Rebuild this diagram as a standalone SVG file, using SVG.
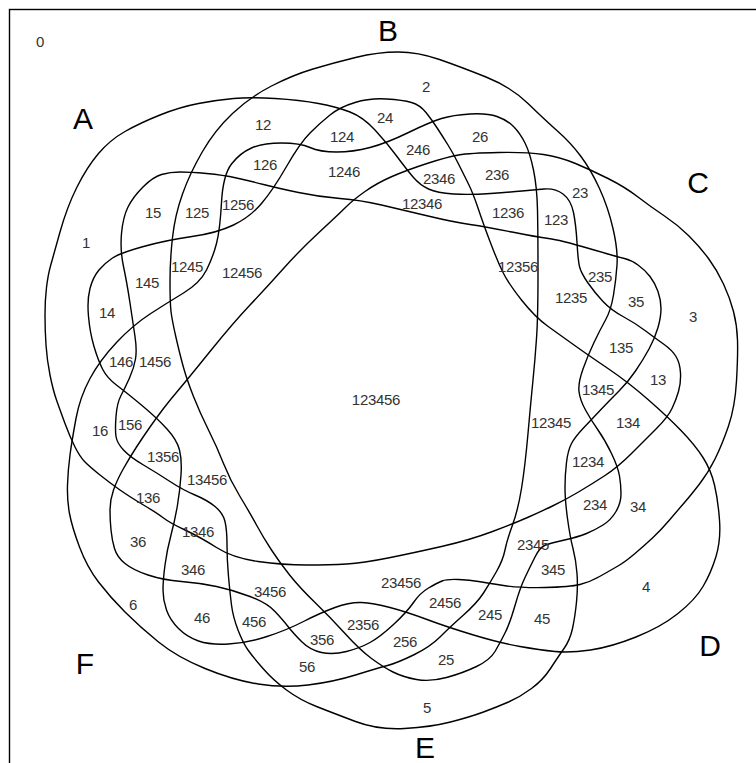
<svg xmlns="http://www.w3.org/2000/svg" width="756" height="763" viewBox="0 0 756 763">
<style>
.set{fill:none;stroke:#000;stroke-width:1.4;stroke-linejoin:round}
.r{font-family:"Liberation Sans",Arial,sans-serif;font-size:15px;fill:#333;text-anchor:middle;letter-spacing:-0.3px}
.s{font-family:"Liberation Sans",Arial,sans-serif;font-size:30px;fill:#000;text-anchor:middle}
</style>
<rect x="0" y="0" width="756" height="763" fill="#fff"/>
<rect x="9.5" y="9.5" width="900" height="900" fill="none" stroke="#000" stroke-width="1.4"/>
<g id="connectors">
<g id="setA"><path class="set" d="M46.5,287.5 Q48,275 50.5,266 Q53,257 60,232 Q67,207 77,187 Q87,167 98.5,153.5 Q110,140 125,131.5 Q140,123 160,115 Q180,107 198.5,103.5 Q217,100 233.5,98.5 Q250,97 275,98.5 Q300,100 318.5,103.5 Q337,107 350,112 Q363,117 375,130 Q387,143 397,156.5 Q407,170 413.5,177.5 Q420,185 428.5,189 Q437,193 453.5,194 Q470,195 490.5,193.5 Q511,192 522,191 Q533,190 544,189 Q555,188 563,194 Q571,200 573.5,212.5 Q576,225 577,242.5 Q578,260 579.5,266.5 Q581,273 588,283 Q595,293 603,301.5 Q611,310 623,316.5 Q635,323 645,330.5 Q655,338 663.5,344 Q672,350 676,356.5 Q680,363 680.5,373 Q681,383 678.5,391.5 Q676,400 672,408.5 Q668,417 656.5,428.5 Q645,440 631.5,453.5 Q618,467 605,475.5 Q592,484 578.5,492 Q565,500 552.5,506 Q540,512 527.5,517.5 Q515,523 492.5,531.5 Q470,540 441.5,546.5 Q413,553 388,558 Q363,563 346.5,564 Q330,565 306.5,565 Q283,565 258,561.5 Q233,558 216.5,547.5 Q200,537 185,530 Q170,523 163.5,518 Q157,513 143.5,505 Q130,497 120,490 Q110,483 100,475 Q90,467 85,462 Q80,457 75,447 Q70,437 65,423.5 Q60,410 56.5,400 Q53,390 50,375 Q47,360 46,345 Q45,330 45,315 Q45,300 46.5,287.5 Z"/></g>
<g id="setB"><path class="set" d="M182.5,194 Q190,173 202.5,151.5 Q215,130 232.5,113.5 Q250,97 271.5,86 Q293,75 313,69 Q333,63 355.5,57.5 Q378,52 398,52 Q418,52 439.5,59.5 Q461,67 486,77 Q511,87 528,103.5 Q545,120 558,131.5 Q571,143 581,156.5 Q591,170 599.5,188.5 Q608,207 613,228.5 Q618,250 617,265 Q616,280 613.5,295 Q611,310 605.5,320 Q600,330 594,342.5 Q588,355 583,369 Q578,383 579,391.5 Q580,400 585.5,410 Q591,420 598,430 Q605,440 611.5,453.5 Q618,467 619.5,476 Q621,485 621,494 Q621,503 616,511.5 Q611,520 603,525 Q595,530 586.5,533.5 Q578,537 564.5,540 Q551,543 545.5,545 Q540,547 535,557 Q530,567 525,577.5 Q520,588 515,605.5 Q510,623 505,633 Q500,643 495,651.5 Q490,660 476.5,666.5 Q463,673 446.5,677.5 Q430,682 416.5,679.5 Q403,677 393,672 Q383,667 371.5,658.5 Q360,650 345,633.5 Q330,617 315,602.5 Q300,588 290,575.5 Q280,563 271.5,550 Q263,537 256.5,525 Q250,513 240,496.5 Q230,480 223.5,463.5 Q217,447 208.5,430 Q200,413 193.5,396.5 Q187,380 183.5,367.5 Q180,355 176,337.5 Q172,320 171,311.5 Q170,303 170,281.5 Q170,260 172.5,237.5 Q175,215 182.5,194 Z"/></g>
<g id="setC"><path class="set" d="M110,510 Q110,500 113.5,490 Q117,480 123.5,468.5 Q130,457 136.5,447 Q143,437 150,427 Q157,417 163.5,408.5 Q170,400 178.5,390 Q187,380 210,351.5 Q233,323 250,305 Q267,287 283.5,268.5 Q300,250 320,231.5 Q340,213 346.5,206.5 Q353,200 365,191.5 Q377,183 392,176.5 Q407,170 427,163.5 Q447,157 458.5,155 Q470,153 498.5,152.5 Q527,152 543.5,154.5 Q560,157 575.5,163.5 Q591,170 608,178.5 Q625,187 638,197 Q651,207 664.5,216 Q678,225 689,236 Q700,247 708.5,258.5 Q717,270 723.5,284 Q730,298 733.5,311.5 Q737,325 737.5,340 Q738,355 736.5,381 Q735,407 728.5,426 Q722,445 715,459 Q708,473 699.5,484 Q691,495 684.5,502.5 Q678,510 669.5,520 Q661,530 653,537.5 Q645,545 635,553.5 Q625,562 618,566 Q611,570 600.5,576 Q590,582 580,584.5 Q570,587 545,587.5 Q520,588 503.5,585.5 Q487,583 478.5,581.5 Q470,580 458.5,579.5 Q447,579 442,581 Q437,583 428.5,588 Q420,593 413.5,602.5 Q407,612 393.5,624.5 Q380,637 370,642.5 Q360,648 346.5,651.5 Q333,655 321.5,652.5 Q310,650 301.5,641.5 Q293,633 288,626.5 Q283,620 275,611.5 Q267,603 250,596.5 Q233,590 216.5,586.5 Q200,583 181.5,581.5 Q163,580 148,575 Q133,570 125,563.5 Q117,557 114.5,548.5 Q112,540 111,530 Q110,520 110,510 Z"/></g>
<g id="setD"><path class="set" d="M112.5,258 Q120,253 143.5,246.5 Q167,240 192,236.5 Q217,233 233.5,225 Q250,217 261.5,203.5 Q273,190 286.5,166.5 Q300,143 310,133 Q320,123 330,115 Q340,107 355,102.5 Q370,98 386.5,99 Q403,100 411.5,102.5 Q420,105 426,112.5 Q432,120 437.5,128.5 Q443,137 448,145 Q453,153 458,163 Q463,173 468,183 Q473,193 478,208 Q483,223 490,241.5 Q497,260 502.5,271.5 Q508,283 521.5,300 Q535,317 547.5,326 Q560,335 574,345 Q588,355 608,368.5 Q628,382 648,399.5 Q668,417 681.5,431 Q695,445 703,457.5 Q711,470 714.5,485 Q718,500 719.5,520 Q721,540 716,556.5 Q711,573 703,586.5 Q695,600 678,613.5 Q661,627 636,637 Q611,647 590.5,650 Q570,653 555,651.5 Q540,650 520,646.5 Q500,643 473.5,635 Q447,627 427,619.5 Q407,612 390,607.5 Q373,603 361.5,602.5 Q350,602 335,607.5 Q320,613 303.5,621.5 Q287,630 267,636.5 Q247,643 228.5,644 Q210,645 198.5,641 Q187,637 178.5,628.5 Q170,620 166.5,610 Q163,600 163,590 Q163,580 165,565 Q167,550 171,535 Q175,520 177.5,505 Q180,490 181,475 Q182,460 179.5,450 Q177,440 167,429 Q157,418 142,405.5 Q127,393 117,385.5 Q107,378 102.5,369 Q98,360 94,346.5 Q90,333 88.5,316.5 Q87,300 90,288.5 Q93,277 99,270 Q105,263 112.5,258 Z"/></g>
<g id="setE"><path class="set" d="M123.5,266.5 Q120,250 121.5,233.5 Q123,217 128,207 Q133,197 143,187 Q153,177 161.5,174.5 Q170,172 180,172 Q190,172 206.5,173.5 Q223,175 236.5,178 Q250,181 263.5,184.5 Q277,188 298.5,192.5 Q320,197 340,198.5 Q360,200 381.5,205 Q403,210 428,216 Q453,222 470,224.5 Q487,227 512,232 Q537,237 548.5,238.5 Q560,240 589,248.5 Q618,257 624.5,258.5 Q631,260 638,265 Q645,270 650,276.5 Q655,283 658,291.5 Q661,300 661,308.5 Q661,317 658,327.5 Q655,338 649,349 Q643,360 635.5,371 Q628,382 619,391 Q610,400 600.5,410 Q591,420 583,428.5 Q575,437 571.5,443.5 Q568,450 566.5,462.5 Q565,475 565,487.5 Q565,500 567.5,518.5 Q570,537 573,548.5 Q576,560 577,573.5 Q578,587 576.5,602 Q575,617 572.5,628.5 Q570,640 564,648.5 Q558,657 550.5,668.5 Q543,680 531.5,688.5 Q520,697 508.5,702 Q497,707 483.5,712 Q470,717 450.5,722 Q431,727 404.5,728.5 Q378,730 355.5,721.5 Q333,713 316.5,706.5 Q300,700 286.5,690 Q273,680 263,668.5 Q253,657 248,650 Q243,643 238,630 Q233,617 231.5,605 Q230,593 228.5,576.5 Q227,560 227,545 Q227,530 225,521.5 Q223,513 215,506.5 Q207,500 195,495 Q183,490 170,481.5 Q157,473 143.5,465 Q130,457 123.5,450 Q117,443 116,436.5 Q115,430 116,416.5 Q117,403 121,395.5 Q125,388 129.5,378 Q134,368 135.5,359 Q137,350 135,336.5 Q133,323 130,303 Q127,283 123.5,266.5 Z"/></g>
<g id="setF"><path class="set" d="M70,455 Q72,440 76,418.5 Q80,397 90,378.5 Q100,360 116.5,342.5 Q133,325 150,314 Q167,303 183.5,293 Q200,283 206.5,270 Q213,257 216.5,243.5 Q220,230 221.5,202.5 Q223,175 231.5,164 Q240,153 251.5,148 Q263,143 281.5,143 Q300,143 310,147.5 Q320,152 336.5,152 Q353,152 370,147.5 Q387,143 408.5,132.5 Q430,122 441.5,118.5 Q453,115 470,114 Q487,113 497,116.5 Q507,120 513.5,126.5 Q520,133 525,143 Q530,153 533.5,170 Q537,187 537.5,210 Q538,233 538,275 Q538,317 536.5,338.5 Q535,360 533,380 Q531,400 528,433.5 Q525,467 521.5,488.5 Q518,510 512.5,525 Q507,540 505,550 Q503,560 496.5,571.5 Q490,583 483.5,593 Q477,603 463.5,615 Q450,627 440,637 Q430,647 413.5,655 Q397,663 387.5,665.5 Q378,668 355.5,675 Q333,682 308,685 Q283,688 258,684 Q233,680 205,668.5 Q177,657 158.5,642 Q140,627 125,612 Q110,597 98.5,582 Q87,567 79.5,547 Q72,527 69.5,513.5 Q67,500 67.5,485 Q68,470 70,455 Z"/></g>
</g>
<g id="set-labels">
<text class="s" x="83" y="129">A</text>
<text class="s" x="388" y="41">B</text>
<text class="s" x="698" y="193">C</text>
<text class="s" x="710" y="656">D</text>
<text class="s" x="425" y="758">E</text>
<text class="s" x="85" y="674">F</text>
</g>
<g id="region-labels">
<text class="r" x="40" y="47">0</text>
<text class="r" x="86" y="248">1</text>
<text class="r" x="426" y="92">2</text>
<text class="r" x="693" y="322">3</text>
<text class="r" x="646" y="592">4</text>
<text class="r" x="427" y="713">5</text>
<text class="r" x="133" y="610">6</text>
<text class="r" x="263" y="130">12</text>
<text class="r" x="658" y="385">13</text>
<text class="r" x="107" y="318">14</text>
<text class="r" x="153" y="218">15</text>
<text class="r" x="100" y="436">16</text>
<text class="r" x="580" y="198">23</text>
<text class="r" x="385" y="123">24</text>
<text class="r" x="446" y="665">25</text>
<text class="r" x="480" y="142">26</text>
<text class="r" x="638" y="512">34</text>
<text class="r" x="636" y="307">35</text>
<text class="r" x="138" y="547">36</text>
<text class="r" x="542" y="624">45</text>
<text class="r" x="202" y="623">46</text>
<text class="r" x="307" y="672">56</text>
<text class="r" x="556" y="225">123</text>
<text class="r" x="342" y="142">124</text>
<text class="r" x="197" y="218">125</text>
<text class="r" x="265" y="170">126</text>
<text class="r" x="628" y="428">134</text>
<text class="r" x="621" y="353">135</text>
<text class="r" x="148" y="503">136</text>
<text class="r" x="147" y="288">145</text>
<text class="r" x="121" y="367">146</text>
<text class="r" x="130" y="430">156</text>
<text class="r" x="595" y="510">234</text>
<text class="r" x="600" y="282">235</text>
<text class="r" x="497" y="180">236</text>
<text class="r" x="490" y="620">245</text>
<text class="r" x="418" y="155">246</text>
<text class="r" x="405" y="647">256</text>
<text class="r" x="553" y="575">345</text>
<text class="r" x="193" y="575">346</text>
<text class="r" x="322" y="645">356</text>
<text class="r" x="254" y="627">456</text>
<text class="r" x="588" y="467">1234</text>
<text class="r" x="571" y="303">1235</text>
<text class="r" x="508" y="218">1236</text>
<text class="r" x="187" y="272">1245</text>
<text class="r" x="344" y="177">1246</text>
<text class="r" x="238" y="210">1256</text>
<text class="r" x="598" y="395">1345</text>
<text class="r" x="198" y="537">1346</text>
<text class="r" x="163" y="462">1356</text>
<text class="r" x="155" y="367">1456</text>
<text class="r" x="533" y="550">2345</text>
<text class="r" x="439" y="184">2346</text>
<text class="r" x="363" y="630">2356</text>
<text class="r" x="445" y="608">2456</text>
<text class="r" x="270" y="597">3456</text>
<text class="r" x="551" y="428">12345</text>
<text class="r" x="422" y="209">12346</text>
<text class="r" x="518" y="272">12356</text>
<text class="r" x="242" y="278">12456</text>
<text class="r" x="207" y="485">13456</text>
<text class="r" x="401" y="588">23456</text>
<text class="r" x="376" y="405">123456</text>
</g>
</svg>
